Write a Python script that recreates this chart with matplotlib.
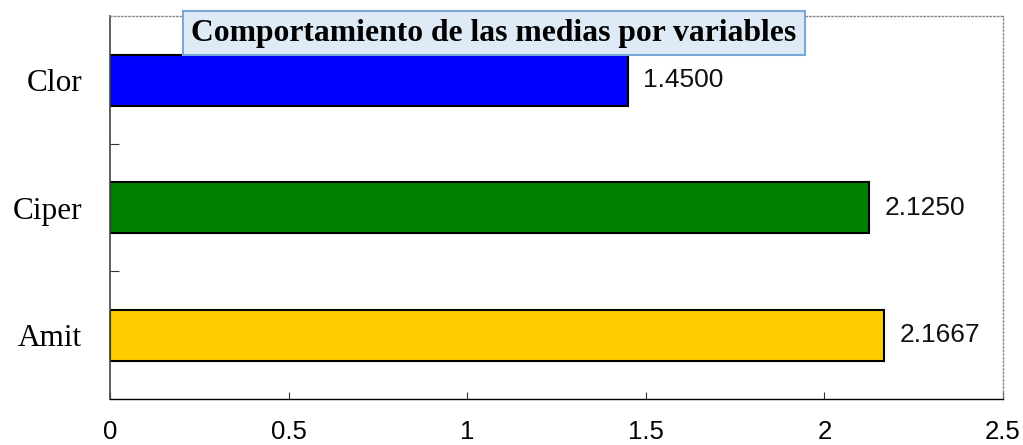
import numpy as np
import matplotlib
matplotlib.use('Agg')
import matplotlib.pyplot as plt

# medias por variable
variables = ['Amit', 'Ciper', 'Clor']
medias = [2.1667, 2.1250, 1.4500]
colores = ['#FFCC00', '#008000', '#0000FF']
titulo = 'Comportamiento de las medias por variables'
xticks = [0, 0.5, 1, 1.5, 2, 2.5]
xticklabels = ['0', '0.5', '1', '1.5', '2', '2.5']

fig = plt.figure(figsize=(10.23, 4.45), dpi=100)
ax = fig.add_axes([0.1075, 0.1034, 0.873, 0.8596])

pos = np.arange(len(variables))
ax.barh(pos, medias, height=0.4, color=colores, edgecolor='black', linewidth=1.5, zorder=2)

for p, m in zip(pos, medias):
    ax.annotate('%.4f' % m, xy=(m, p), xytext=(11, 0), textcoords='offset points',
                va='center', ha='left', fontsize=19, family='Liberation Sans', color='#111111')

ax.set_xlim(0, 2.5)
ax.set_ylim(-0.5, 2.5)

ax.set_xticks(xticks)
ax.set_xticklabels(xticklabels, family='Liberation Sans', fontsize=18.5)
ax.set_yticks(pos)
ax.set_yticklabels(variables, family='Liberation Serif', fontsize=22.5)
ax.set_yticks([0.5, 1.5], minor=True)

ax.tick_params(axis='x', direction='in', length=5, width=0.8, pad=15, color='#333333')
ax.tick_params(axis='y', which='major', length=0, pad=20)
ax.tick_params(axis='y', which='minor', direction='in', length=6.5, width=0.8, color='#333333')
ax.tick_params(axis='x', which='minor', bottom=False)

for s in ['top', 'right']:
    ax.spines[s].set_color('#888888')
    ax.spines[s].set_linestyle(':')
    ax.spines[s].set_linewidth(1.0)
ax.spines['left'].set_color('#444444')
ax.spines['left'].set_linewidth(1.2)
ax.spines['bottom'].set_color('black')
ax.spines['bottom'].set_linewidth(1.0)

fig.text(494 / 1023, 1 - 33 / 445, titulo, ha='center', va='center',
         family='Liberation Serif', fontweight='bold', fontsize=22.8,
         bbox=dict(boxstyle='square,pad=0.25', facecolor='#DEEAF6', edgecolor='#7AA7DA', linewidth=1.5),
         zorder=5)

fig.savefig('out.png', dpi=100)
